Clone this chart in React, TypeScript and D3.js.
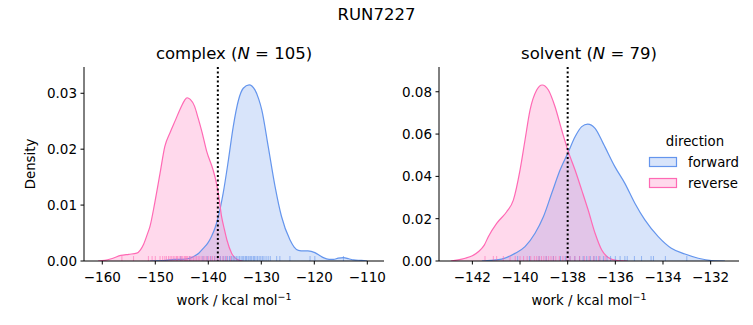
import React from "react";
import * as d3 from "d3";

const W = 753;
const H = 325;
const BLUE = "#6495ED";
const PINK = "#FF69B4";
const FONT = "DejaVu Sans, sans-serif";

const suptitle = "RUN7227";
const directions = ["forward", "reverse"];

// complex panel
const complexN = 105;
const complexXTicks = [-160, -150, -140, -130, -120, -110];
const complexYTicks = [0, 0.01, 0.02, 0.03];
const complexYLabels = ["0.00", "0.01", "0.02", "0.03"];
const complexBar = -138.2;
const complexForwardKde: [number, number][] = [
  [-151, 0], [-148, 0.0001], [-146.5, 0.0003], [-145, 0.0003], [-143.5, 0.0005], [-142.8, 0.0008],
  [-141.8, 0.0014], [-140.9, 0.0023], [-140.1, 0.0032], [-139.4, 0.0044], [-138.7, 0.006],
  [-138.1, 0.008], [-137.2, 0.0121], [-136.2, 0.0181], [-135.3, 0.024], [-134.3, 0.0288],
  [-133.4, 0.0309], [-132.3, 0.0315], [-131.2, 0.0306], [-130.5, 0.029], [-129.9, 0.027],
  [-128.7, 0.0205], [-127.4, 0.0133], [-126.2, 0.008], [-124.6, 0.0038], [-123.8, 0.0025],
  [-123, 0.0019], [-122, 0.0018], [-121.2, 0.0018], [-119.9, 0.0015], [-119, 0.001],
  [-118.3, 0.0006], [-117.2, 0.0003], [-116.4, 0.0003], [-115.5, 0.0005], [-114.5, 0.0006],
  [-113.5, 0.0004], [-112.6, 0.0002], [-111.1, 0.0001], [-110, 0],
];
const complexReverseKde: [number, number][] = [
  [-160.8, 0], [-159.5, 0.0001], [-158, 0.0005], [-156.5, 0.001], [-155, 0.0012], [-153.5, 0.0014],
  [-152.8, 0.002], [-152.2, 0.003], [-151.5, 0.0048], [-151, 0.0062], [-150.1, 0.0104],
  [-149.1, 0.0157], [-148.2, 0.0205], [-147.2, 0.023], [-146.2, 0.0252], [-145.3, 0.0272],
  [-144.5, 0.0287], [-144.0, 0.0292], [-143.4, 0.0289], [-142.6, 0.0277], [-141.9, 0.0255],
  [-141.2, 0.0231], [-140.3, 0.0196], [-139.1, 0.0163], [-138.6, 0.0145], [-138.1, 0.0121],
  [-137.5, 0.008], [-137, 0.0058], [-136.5, 0.0038], [-135.6, 0.0014], [-134.6, 0.0003], [-133.5, 0],
];
const complexForwardRug = [
  -145.2, -143.5, -141.0, -140.2, -139.5, -138.8, -138.2, -137.7, -137.2, -136.8, -136.4, -136.0,
  -135.6, -135.3, -135.0, -134.7, -134.4, -134.1, -133.8, -133.5, -133.3, -133.0, -132.8, -132.5,
  -132.3, -132.0, -131.8, -131.5, -131.3, -131.0, -130.7, -130.4, -130.1, -129.8, -129.5, -129.1,
  -128.7, -128.3, -127.1, -126.5, -124.6, -120.8, -119.9, -114.5,
];
const complexReverseRug = [
  -156.3, -154.1, -151.3, -150.6, -150.0, -149.1, -148.6, -148.2, -147.9, -147.5, -147.2, -146.9,
  -146.6, -146.3, -146.0, -145.8, -145.5, -145.2, -145.0, -144.8, -144.5, -144.3, -144.1, -143.9,
  -143.6, -143.4, -143.1, -142.8, -142.5, -142.2, -141.9, -141.6, -141.2, -140.8, -140.4, -140.0,
  -139.6, -139.2, -138.8, -138.3, -137.8, -137.2, -136.6, -135.8,
];

// solvent panel
const solventN = 79;
const solventXTicks = [-142, -140, -138, -136, -134, -132];
const solventYTicks = [0, 0.02, 0.04, 0.06, 0.08];
const solventYLabels = ["0.00", "0.02", "0.04", "0.06", "0.08"];
const solventBar = -138.0;
const solventForwardKde: [number, number][] = [
  [-141.6, 0], [-141.2, 0.0003], [-140.77, 0.0009], [-140.21, 0.0036], [-139.79, 0.0068],
  [-139.37, 0.0131], [-139.02, 0.0209], [-138.67, 0.032], [-138.32, 0.043], [-137.97, 0.0516],
  [-137.69, 0.0587], [-137.41, 0.0635], [-137.16, 0.0647], [-136.85, 0.0627], [-136.51, 0.0556],
  [-136.02, 0.0446], [-135.6, 0.0367], [-135.18, 0.0273], [-134.76, 0.0194], [-134.2, 0.0115],
  [-133.65, 0.006], [-133.08, 0.0033], [-132.52, 0.0013], [-131.96, 0.0002], [-131.4, 0],
];
const solventReverseKde: [number, number][] = [
  [-142.9, 0], [-142.6, 0.0005], [-142.3, 0.0013], [-142.0, 0.0025], [-141.75, 0.0044],
  [-141.5, 0.0075], [-141.33, 0.0115], [-140.98, 0.0178], [-140.56, 0.0233], [-140.28, 0.0288],
  [-140.0, 0.043], [-139.79, 0.0572], [-139.58, 0.0713], [-139.3, 0.0808], [-139.07, 0.0832],
  [-138.81, 0.0808], [-138.53, 0.0729], [-138.25, 0.0619], [-137.97, 0.0516], [-137.69, 0.043],
  [-137.41, 0.0335], [-137.14, 0.0241], [-136.85, 0.0131], [-136.57, 0.0052], [-136.3, 0.0017],
  [-135.9, 0.0002], [-135.5, 0],
];
const solventForwardRug = [
  -140.1, -139.6, -139.2, -138.9, -138.6, -138.3, -138.1, -137.9, -137.7, -137.5, -137.35, -137.2,
  -137.05, -136.9, -136.8, -136.65, -136.5, -136.35, -136.2, -136.0, -135.8, -135.6, -135.5,
  -135.2, -134.9, -134.5, -134.4, -133.9, -133.0,
];
const solventReverseRug = [
  -141.47, -141.12, -140.98, -140.7, -140.42, -140.2, -140.0, -139.85, -139.7, -139.55, -139.4,
  -139.3, -139.2, -139.1, -139.0, -138.9, -138.8, -138.7, -138.6, -138.5, -138.35, -138.2, -138.05,
  -137.9, -137.7, -137.5, -137.3, -137.1, -136.9, -136.7, -136.43,
];

const TOP = 67;
const BOTTOM = 261;
const TICK_FS = 13.5;

type PanelProps = {
  left: number;
  right: number;
  xDomain: [number, number];
  yMax: number;
  xTicks: number[];
  yTicks: number[];
  yLabels: string[];
  name: string;
  n: number;
  bar: number;
  fwdKde: [number, number][];
  revKde: [number, number][];
  fwdRug: number[];
  revRug: number[];
  showYLabel: boolean;
};

function Panel(p: PanelProps) {
  const x = d3.scaleLinear().domain(p.xDomain).range([p.left, p.right]);
  const y = d3.scaleLinear().domain([0, p.yMax]).range([BOTTOM, TOP]);
  const area = d3
    .area<[number, number]>()
    .x((d) => x(d[0]))
    .y0(y(0))
    .y1((d) => y(d[1]))
    .curve(d3.curveMonotoneX);
  const line = d3
    .line<[number, number]>()
    .x((d) => x(d[0]))
    .y((d) => y(d[1]))
    .curve(d3.curveMonotoneX);
  const cx = (p.left + p.right) / 2;
  const clipId = "clip" + p.name;
  const series = [
    { kde: p.fwdKde, rug: p.fwdRug, color: BLUE },
    { kde: p.revKde, rug: p.revRug, color: PINK },
  ];
  return (
    <g fontFamily={FONT}>
      <defs>
        <clipPath id={clipId}>
          <rect x={p.left} y={TOP} width={p.right - p.left} height={BOTTOM - TOP} />
        </clipPath>
      </defs>
      <g clipPath={`url(#${clipId})`}>
        {series.map((s, i) => (
          <path key={"a" + i} d={area(s.kde) || ""} fill={s.color} fillOpacity={0.25} stroke="none" />
        ))}
        {series.map((s, i) => (
          <path key={"l" + i} d={line(s.kde) || ""} fill="none" stroke={s.color} strokeWidth={1.2} />
        ))}
        {series.map((s, i) =>
          s.rug.map((v, j) => (
            <line
              key={"r" + i + "-" + j}
              x1={x(v)}
              x2={x(v)}
              y1={BOTTOM}
              y2={BOTTOM - 5}
              stroke={s.color}
              strokeOpacity={0.6}
              strokeWidth={1}
            />
          ))
        )}
        <line
          x1={x(p.bar)}
          x2={x(p.bar)}
          y1={TOP}
          y2={BOTTOM}
          stroke="#000"
          strokeWidth={2}
          strokeDasharray="2,2.5"
        />
      </g>
      <line x1={p.left} x2={p.left} y1={TOP} y2={BOTTOM} stroke="#000" strokeWidth={1} />
      <line x1={p.left} x2={p.right} y1={BOTTOM} y2={BOTTOM} stroke="#000" strokeWidth={1} />
      {p.xTicks.map((t) => (
        <g key={"xt" + t}>
          <line x1={x(t)} x2={x(t)} y1={BOTTOM} y2={BOTTOM + 3.5} stroke="#000" strokeWidth={1} />
          <text x={x(t)} y={BOTTOM + 20.5} textAnchor="middle" fontSize={TICK_FS} fill="#000">
            {"\u2212" + Math.abs(t)}
          </text>
        </g>
      ))}
      {p.yTicks.map((t, i) => (
        <g key={"yt" + t}>
          <line x1={p.left - 3.5} x2={p.left} y1={y(t)} y2={y(t)} stroke="#000" strokeWidth={1} />
          <text x={p.left - 7} y={y(t) + 4.9} textAnchor="end" fontSize={TICK_FS} fill="#000">
            {p.yLabels[i]}
          </text>
        </g>
      ))}
      <text x={cx} y={59} textAnchor="middle" fontSize={16.5} fill="#000">
        {p.name + " ("}
        <tspan fontStyle="italic">N</tspan>
        {" = " + p.n + ")"}
      </text>
      <text x={cx} y={305} textAnchor="middle" fontSize={13.3} fill="#000">
        {"work / kcal mol"}
        <tspan dy={-5} fontSize={9.5}>{"\u22121"}</tspan>
      </text>
      {p.showYLabel && (
        <text
          transform={`translate(35,${(TOP + BOTTOM) / 2}) rotate(-90)`}
          textAnchor="middle"
          fontSize={13.3}
          fill="#000"
        >
          Density
        </text>
      )}
    </g>
  );
}

export default function App() {
  const legendColors = [BLUE, PINK];
  return (
    <svg width={W} height={H} style={{ display: "block", position: "absolute", left: 0, top: 0 }}>
      <rect x={0} y={0} width={W} height={H} fill="#fff" />
      <text x={376.5} y={20} textAnchor="middle" fontSize={16.5} fontFamily={FONT} fill="#000">
        {suptitle}
      </text>
      <Panel
        left={84}
        right={384}
        xDomain={[-163.45, -106.85]}
        yMax={0.0347}
        xTicks={complexXTicks}
        yTicks={complexYTicks}
        yLabels={complexYLabels}
        name="complex"
        n={complexN}
        bar={complexBar}
        fwdKde={complexForwardKde}
        revKde={complexReverseKde}
        fwdRug={complexForwardRug}
        revRug={complexReverseRug}
        showYLabel={true}
      />
      <Panel
        left={439}
        right={739}
        xDomain={[-143.4, -130.81]}
        yMax={0.0917}
        xTicks={solventXTicks}
        yTicks={solventYTicks}
        yLabels={solventYLabels}
        name="solvent"
        n={solventN}
        bar={solventBar}
        fwdKde={solventForwardKde}
        revKde={solventReverseKde}
        fwdRug={solventForwardRug}
        revRug={solventReverseRug}
        showYLabel={false}
      />
      <g fontFamily={FONT}>
        <text x={695} y={146} textAnchor="middle" fontSize={13.3} fill="#000">
          direction
        </text>
        {directions.map((d, i) => (
          <g key={d}>
            <rect
              x={649.5}
              y={157.5 + i * 21}
              width={27}
              height={9}
              fill={legendColors[i]}
              fillOpacity={0.25}
              stroke={legendColors[i]}
              strokeWidth={1.2}
            />
            <text x={688} y={166.5 + i * 21} fontSize={13.3} fill="#000">
              {d}
            </text>
          </g>
        ))}
      </g>
    </svg>
  );
}
